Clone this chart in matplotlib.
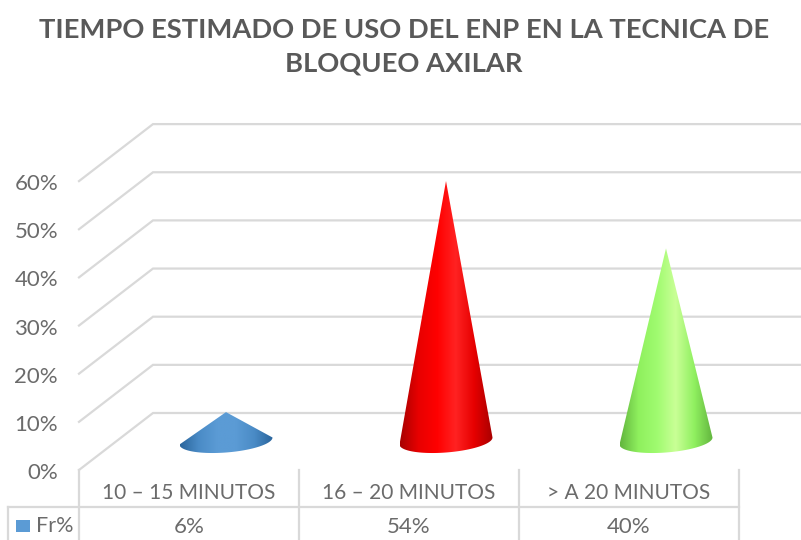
import numpy as np
import matplotlib
matplotlib.use("Agg")
import matplotlib.pyplot as plt
from matplotlib.colors import LinearSegmentedColormap
from matplotlib.patches import Polygon

plt.rcParams['font.family'] = ['Lato', 'DejaVu Sans']

categorias = ["10 – 15 MINUTOS", "16 – 20 MINUTOS", "> A 20 MINUTOS"]
valores = [6, 54, 40]
ticks = [0, 10, 20, 30, 40, 50, 60]
serie = "Fr%"
titulo = "TIEMPO ESTIMADO DE USO DEL ENP EN LA TECNICA DE\nBLOQUEO AXILAR"

colores = [
    ["#2a659c", "#4a8bc6", "#5b9bd5", "#5b9bd5", "#4a8bc6", "#2a659c"],
    ["#a80000", "#e80000", "#ff0000", "#ff2222", "#e60000", "#a80000"],
    ["#62b53e", "#8ff05e", "#a0fb70", "#c9ff96", "#90f060", "#62b53e"],
]

W, H = 801, 540
# la escala: categoria 0 en x=226 px, 0% en y=441 px, 10% = 48.15 px
px_cat = 220.0
px_pct = 4.815
x0, y0 = 226.0, 441.0
gris = "#d9d9d9"
texto = "#6b6b6b"

fig = plt.figure(figsize=(W/100, H/100), dpi=100)
ax = fig.add_axes([0, 0, 1, 1])
ax.set_xlim((0-x0)/px_cat, (W-x0)/px_cat)
ax.set_ylim((y0-H)/px_pct, y0/px_pct)
ax.autoscale(False)
ax.axis("off")

def cx(p):
    return (p-x0)/px_cat

def cy(p):
    return (y0-p)/px_pct

# plano del fondo y pared lateral
izq = cx(79)
fondo = cx(153)
der = cx(W)
front_y = cy(470)
back_y = cy(413)
for t in ticks:
    ax.plot([izq, fondo, der], [front_y+t, back_y+t, back_y+t], color=gris, lw=1.6,
            solid_joinstyle="miter", zorder=1)

# tabla de datos
col_x = [izq + i for i in range(4)]
fila1 = cy(507)
abajo = cy(540)
for c in col_x:
    ax.plot([c, c], [front_y, abajo], color=gris, lw=1.6, zorder=1)
ax.plot([cx(8), col_x[-1]], [fila1, fila1], color=gris, lw=1.6, zorder=1)
ax.plot([cx(8), cx(8)], [fila1, abajo], color=gris, lw=1.6, zorder=1)

for i, (c, v) in enumerate(zip(categorias, valores)):
    ax.text(izq+i+0.5, cy(493), c, ha="center", va="center", fontsize=15, color=texto)
    ax.text(izq+i+0.5, cy(527), f"{v}%", ha="center", va="center", fontsize=16, color=texto)

# leyenda dentro de la tabla
ax.add_patch(plt.Rectangle((cx(16), cy(532)), 14/px_cat, 12/px_pct, color="#5b9bd5", lw=0))
ax.text(cx(36), cy(526), serie, ha="left", va="center", fontsize=15.5, color=texto)

# etiquetas del eje
for t in ticks:
    ax.text(cx(58), front_y+t-3/px_pct, f"{t}%", ha="right", va="center", fontsize=16, color=texto)

# conos, la base va un poco inclinada (izq mas baja que der)
rx = 46.5/px_cat
ry = 11.5/px_pct
incl = 3.5/px_pct
for i, (v, cols) in enumerate(zip(valores, colores)):
    cmap = LinearSegmentedColormap.from_list("c", cols)
    th = np.linspace(np.pi, 2*np.pi, 60)
    xs = np.r_[i, i + rx*np.cos(th)]
    ys = np.r_[v, ry*np.sin(th) + incl*np.cos(th)]
    im = ax.imshow(np.linspace(0, 1, 256).reshape(1, -1), cmap=cmap, aspect="auto",
                   extent=[i-rx, i+rx, -ry-incl, v], zorder=3, interpolation="bilinear")
    pol = Polygon(np.c_[xs, ys], closed=True, transform=ax.transData, fc="none", ec="none")
    ax.add_patch(pol)
    im.set_clip_path(pol)

fig.text(404/W, 1-47/H, titulo, ha="center", va="center", fontsize=19.7, fontweight="bold",
         color="#595959", linespacing=1.46)

fig.savefig("out.png", dpi=100)
